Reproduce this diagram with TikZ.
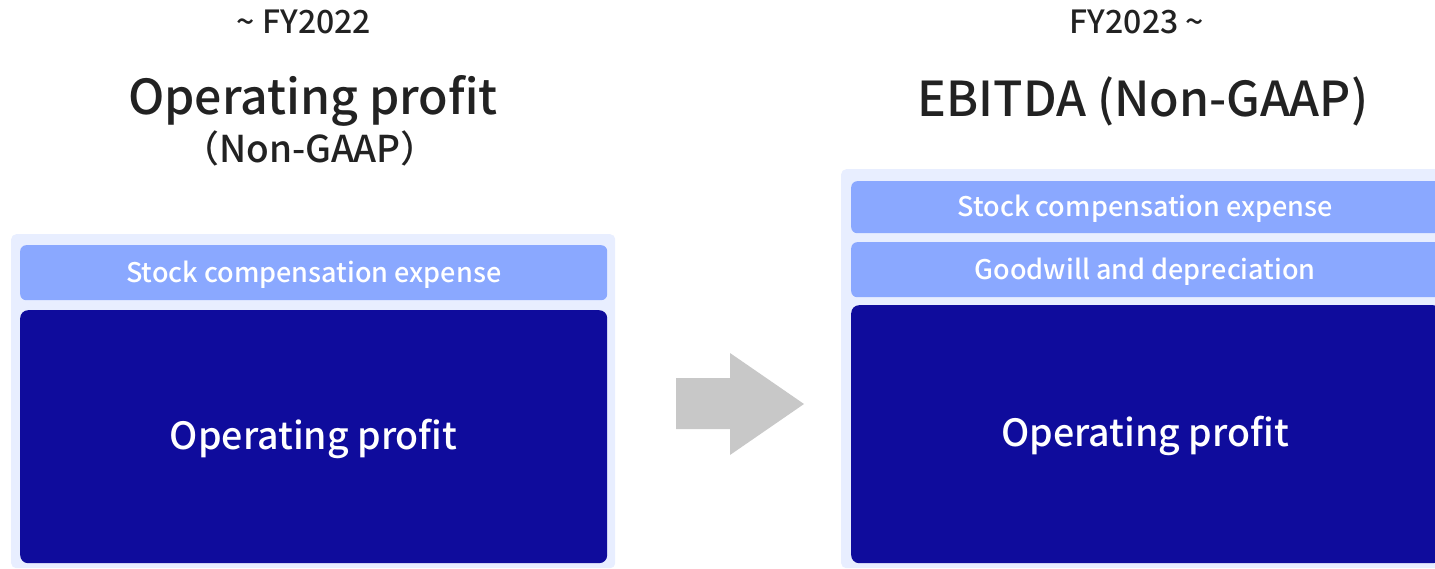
\documentclass[tikz,border=0pt]{standalone}
\usepackage{fontspec}
\setmainfont{Noto Sans CJK JP}[UprightFont=* Medium]
\definecolor{panelbg}{HTML}{E8EEFF}
\definecolor{lightbar}{HTML}{8AA8FF}
\definecolor{darkbar}{HTML}{0F0C9C}
\definecolor{arrowgray}{HTML}{C8C8C8}
\definecolor{inkgray}{HTML}{222222}
\tikzset{
  panel/.style={fill=panelbg, draw=none, rounded corners=5pt, anchor=north west, inner sep=0pt},
  bar/.style={fill=lightbar, draw=none, rounded corners=6pt, anchor=north west, inner sep=0pt},
  block/.style={fill=darkbar, draw=none, rounded corners=8pt, anchor=north west, inner sep=0pt},
  barlabel/.style={text=white, inner sep=0pt, font=\fontsize{27}{32}\selectfont},
  blocklabel/.style={text=white, inner sep=0pt, font=\fontsize{37.5}{44}\selectfont},
  period/.style={text=inkgray, font=\fontsize{32}{36}\selectfont},
  heading/.style={text=inkgray, font=\fontsize{48.2}{56}\selectfont},
  subheading/.style={text=inkgray, font=\fontsize{37}{42}\selectfont},
}
\begin{document}
\begin{tikzpicture}[x=1pt, y=-1pt]
  \useasboundingbox (0,0) rectangle (1435,569);

  % left column: FY2022 and earlier
  \node[period] (lperiod) at (304,22) {\textasciitilde{} FY2022};
  \node[heading] (lhead) at (313,101) {Operating profit};
  \node[subheading] (lsub) at (310,148) {（Non-GAAP）};
  \node[panel, minimum width=604pt, minimum height=334pt] (lpanel) at (11,234) {};
  \node[bar, minimum width=587pt, minimum height=55pt] (lstock) at (20,245) {};
  \node[block, minimum width=587pt, minimum height=253pt] (lop) at (20,310) {};
  \node[barlabel] (lstocktext) at ([yshift=-2pt]lstock.center) {Stock compensation expense};
  \node[blocklabel] (loptext) at ([yshift=-2pt]lop.center) {Operating profit};

  % transition arrow
  \fill[arrowgray] (676,378) -- (730,378) -- (730,353) -- (804,404) -- (730,455) -- (730,429) -- (676,429) -- cycle;

  % right column: FY2023 onward
  \node[period] (rperiod) at (1137,22) {FY2023 \textasciitilde};
  \node[heading] (rhead) at (1143,101) {EBITDA (Non-GAAP)};
  \node[panel, minimum width=600pt, minimum height=399pt] (rpanel) at (841,169) {};
  \node[bar, minimum width=590pt, minimum height=52pt] (rstock) at (851,181) {};
  \node[bar, minimum width=590pt, minimum height=55pt] (rgood) at (851,242) {};
  \node[block, minimum width=590pt, minimum height=258pt] (rop) at (851,305) {};
  \node[barlabel] (rstocktext) at ([xshift=-1pt,yshift=-2pt]rstock.center) {Stock compensation expense};
  \node[barlabel] (rgoodtext) at ([xshift=-1pt,yshift=-2pt]rgood.center) {Goodwill and depreciation};
  \node[blocklabel] (roptext) at ([xshift=-1pt,yshift=-2pt]rop.center) {Operating profit};
\end{tikzpicture}
\end{document}
